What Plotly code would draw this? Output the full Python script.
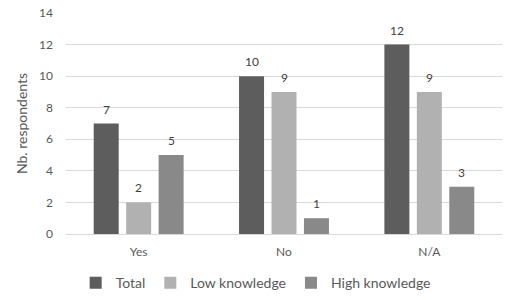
import plotly.graph_objects as go

categories = ["Yes", "No", "N/A"]
total = [7, 10, 12]
low_knowledge = [2, 9, 9]
high_knowledge = [5, 1, 3]
series_names = ["Total", "Low knowledge", "High knowledge"]
colors = ["#5d5d5d", "#b1b1b1", "#898989"]

BARGAP = 0.33
BARGROUPGAP = 0.23
FONT = "Lato, sans-serif"

fig = go.Figure()
all_series = [total, low_knowledge, high_knowledge]
n = len(all_series)
annotations = []
for i, (name, vals, col) in enumerate(zip(series_names, all_series, colors)):
    fig.add_trace(go.Bar(
        x=categories, y=vals, name=name,
        marker=dict(color=col, line=dict(width=0)),
        hoverinfo="x+y+name",
    ))
    # data labels placed over each bar of the group
    offset = (i - (n - 1) / 2) * (1 - BARGAP) / n
    for j, v in enumerate(vals):
        annotations.append(dict(
            x=j + offset, y=v, xref="x", yref="y", text=str(v),
            showarrow=False, yanchor="bottom", yshift=5,
            font=dict(family=FONT, size=12, color="#404040"),
        ))

fig.update_layout(
    width=510, height=300,
    margin=dict(l=66, r=8, t=13, b=66, autoexpand=False),
    paper_bgcolor="white", plot_bgcolor="white",
    barmode="group", bargap=BARGAP, bargroupgap=BARGROUPGAP,
    font=dict(family=FONT, color="#595959"),
    showlegend=True,
    legend=dict(orientation="h", x=0.435, xanchor="center", y=-0.222, yanchor="middle",
                font=dict(size=14, color="#595959"), itemwidth=30,
                traceorder="normal", itemclick=False, itemdoubleclick=False),
    annotations=annotations,
    xaxis=dict(showgrid=False, showline=False, ticks="", ticklabelstandoff=9,
               tickfont=dict(size=12, color="#595959")),
    yaxis=dict(range=[0, 14], dtick=2, showgrid=True, gridcolor="#d9d9d9", gridwidth=1,
               zeroline=True, zerolinecolor="#d9d9d9", zerolinewidth=1,
               showline=False, ticks="", ticklabelstandoff=12,
               tickfont=dict(size=12, color="#595959"),
               title=dict(text="Nb. respondents", font=dict(size=14, color="#595959"), standoff=8)),
)

fig.write_html("out.html")
